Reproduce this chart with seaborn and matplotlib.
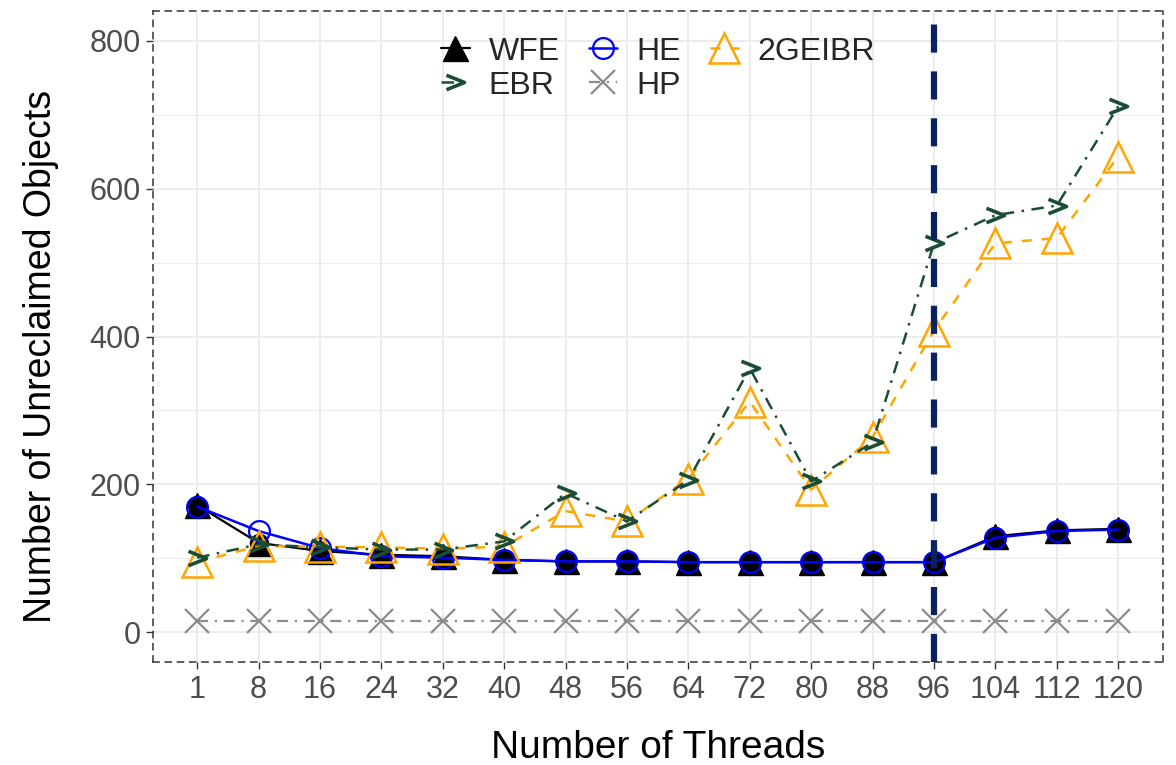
import matplotlib
matplotlib.use("Agg")
import matplotlib.pyplot as plt
import seaborn as sns
import pandas as pd
import numpy as np

threads = [1, 8, 16, 24, 32, 40, 48, 56, 64, 72, 80, 88, 96, 104, 112, 120]
wfe = [172, 121, 110, 105, 103, 98, 96, 96, 95, 95, 95, 95, 95, 130, 138, 140]
he = [170, 137, 114, 103, 101, 98, 96, 96, 95, 95, 95, 95, 95, 128, 137, 139]
ebr = [101, 119, 115, 112, 112, 123, 188, 150, 206, 357, 204, 257, 526, 564, 577, 711]
geibr = [95, 117, 116, 115, 113, 116, 164, 150, 208, 312, 193, 264, 408, 526, 533, 643]
hp = [15, 15, 15, 15, 15, 15, 15, 15, 15, 15, 15, 15, 15, 15, 15, 15]
vline_thread = 96
y_ticks = [0, 200, 400, 600, 800]

sns.set_theme(style="white")
plt.rcParams['font.family'] = ['Liberation Sans', 'DejaVu Sans']

fig = plt.figure(figsize=(11.76, 7.65), dpi=100)
ax = fig.add_axes([153/1176, 1-662/765, (1163-153)/1176, (662-11)/765])

pos = list(range(len(threads)))
def frame(vals):
    return pd.DataFrame({"pos": pos, "value": vals})

chevron = [(-1, 0.8), (1, 0), (-1, -0.8)]

# WFE
sns.lineplot(data=frame(wfe), x="pos", y="value", ax=ax, color="black", lw=1.6,
             marker="^", markersize=18, markerfacecolor="black", markeredgecolor="black",
             markeredgewidth=1, label="WFE", zorder=3)
ax.plot(pos, wfe, linestyle="none", marker="o", markersize=13, color="black", zorder=3.1)
# HE
sns.lineplot(data=frame(he), x="pos", y="value", ax=ax, color="#0000FF", lw=1.8,
             marker="o", markersize=15, markerfacecolor="none", markeredgecolor="#0000FF",
             markeredgewidth=1.6, label="HE", zorder=3.2)
# 2GEIBR
sns.lineplot(data=frame(geibr), x="pos", y="value", ax=ax, color="#FFA500", lw=1.8,
             linestyle=(0, (4, 4)),
             marker="^", markersize=22, markerfacecolor="none", markeredgecolor="#FFA500",
             markeredgewidth=1.8, label="2GEIBR", zorder=3.3)
# EBR
sns.lineplot(data=frame(ebr), x="pos", y="value", ax=ax, color="#1B4D35", lw=1.8,
             linestyle=(0, (5, 3, 1, 3)),
             marker=chevron, markersize=13, markerfacecolor="none", markeredgecolor="#1B4D35",
             markeredgewidth=2.6, label="EBR", zorder=3.4)
# HP
sns.lineplot(data=frame(hp), x="pos", y="value", ax=ax, color="#8C8C8C", lw=1.6,
             linestyle=(0, (5, 3, 1, 3)),
             marker="x", markersize=17, markerfacecolor="none", markeredgecolor="#8C8C8C",
             markeredgewidth=1.6, label="HP", zorder=3.5)

ax.axvline(threads.index(vline_thread), color="#0A2260", lw=4.5,
           linestyle=(0, (4.5, 3)), zorder=5)

ax.set_xlim(-0.72, 15.73)
ax.set_ylim(-40, 840)
ax.set_xticks(pos)
ax.set_xticklabels([str(t) for t in threads])
ax.set_yticks(y_ticks)
ax.set_yticks([100, 300, 500, 700], minor=True)
ax.grid(True, which="major", color="#EBEBEB", lw=1.3, zorder=0)
ax.grid(True, which="minor", axis="y", color="#EBEBEB", lw=0.7, zorder=0)
ax.set_axisbelow(True)
ax.tick_params(axis="both", which="major", labelsize=22, labelcolor="#4D4D4D",
               color="#333333", length=5, width=1, direction="out", bottom=True, left=True, pad=4)
ax.tick_params(axis="y", which="minor", length=0)
for s in ax.spines.values():
    s.set_visible(True)
    s.set_color("#333333")
    s.set_linewidth(1.1)
    s.set_linestyle((0, (4, 4)))

ax.set_xlabel("Number of Threads", fontsize=28, color="black", labelpad=18)
ax.set_ylabel("Number of Unreclaimed Objects", fontsize=27, color="black")
ax.yaxis.set_label_coords(-0.093, 0.47)

handles, labels = ax.get_legend_handles_labels()
order = ["WFE", "EBR", "HE", "HP", "2GEIBR"]
hmap = dict(zip(labels, handles))
leg = ax.legend([hmap[k] for k in order], order, ncol=3, loc="upper center",
                bbox_to_anchor=(0.5, 0.99), frameon=False, fontsize=23,
                handlelength=0.9, handletextpad=0.6, columnspacing=0.9,
                labelspacing=0.12, borderaxespad=0.2)

fig.savefig("out.png", dpi=100)
